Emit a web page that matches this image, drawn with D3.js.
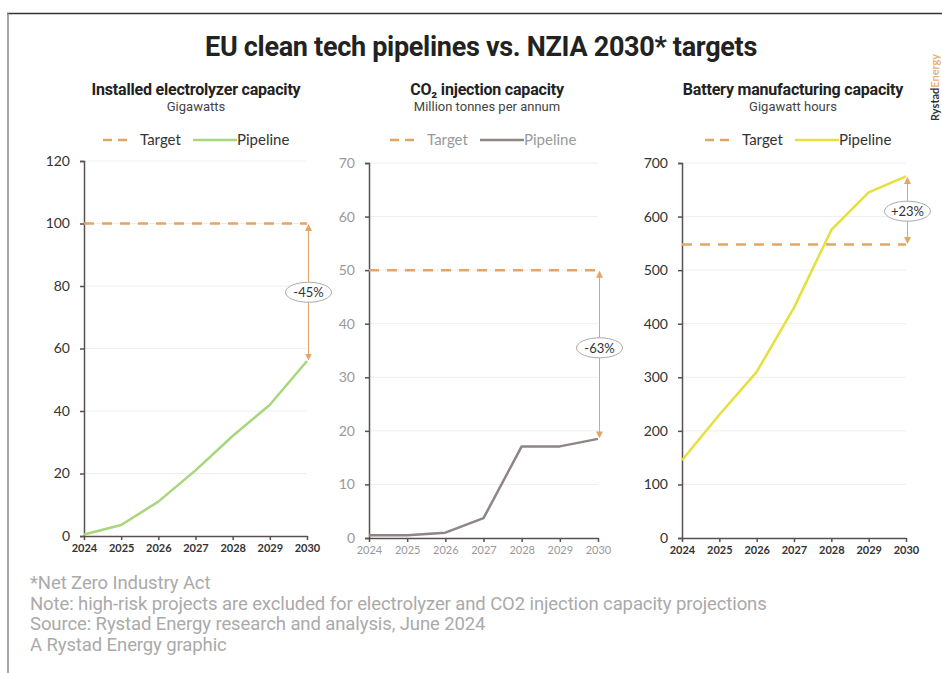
<!DOCTYPE html>
<html><head><meta charset="utf-8">
<script src="https://cdn.jsdelivr.net/npm/d3@7/dist/d3.min.js"></script>
<style>
body{margin:0;background:#fff;}
svg{display:block;}
</style></head>
<body>
<svg id="c" width="942" height="673"></svg>
<script>
const years = [2024, 2025, 2026, 2027, 2028, 2029, 2030];
const electrolyzer = [0.5, 3.5, 11, 21, 32, 42, 56];
const co2 = [0.5, 0.5, 1.0, 3.7, 17.1, 17.1, 18.5];
const battery = [145, 230, 310, 430, 575, 645, 675];
const targets = [100, 50, 548];
const gapLabels = ["-45%", "-63%", "+23%"];
const titles = ["Installed electrolyzer capacity", "CO₂ injection capacity", "Battery manufacturing capacity"];
const units = ["Gigawatts", "Million tonnes per annum", "Gigawatt hours"];
const yMax = [120, 70, 700];
const yTicks = [[0,20,40,60,80,100,120],[0,10,20,30,40,50,60,70],[0,100,200,300,400,500,600,700]];
const legendLabels = ["Target", "Pipeline"];
const footnotes = ["*Net Zero Industry Act",
  "Note: high-risk projects are excluded for electrolyzer and CO2 injection capacity projections",
  "Source: Rystad Energy research and analysis, June 2024",
  "A Rystad Energy graphic"];

const svg = d3.select("#c");
const COND = "'Roboto','Liberation Sans Narrow',sans-serif";
const WIDE = "'Lato','Open Sans',sans-serif";
const targetColor = "#e3a566";

// frame
svg.append("line").attr("x1",7).attr("x2",942).attr("y1",13.5).attr("y2",13.5).attr("stroke","#333").attr("stroke-width",1.5);
svg.append("line").attr("x1",8).attr("x2",8).attr("y1",13).attr("y2",673).attr("stroke","#888").attr("stroke-width",1.5);

// title
svg.append("text").attr("x",481).attr("y",56).attr("text-anchor","middle")
  .attr("font-family",COND).attr("font-weight","bold").attr("font-size",27).attr("fill","#222")
  .attr("letter-spacing","-0.3")
  .text("EU clean tech pipelines vs. NZIA 2030* targets");

// logo
const logo = svg.append("text").attr("transform","translate(939,121) rotate(-90)")
  .attr("font-family",WIDE).attr("font-weight","bold").attr("font-size",11);
logo.append("tspan").attr("fill","#333").text("Rystad");
logo.append("tspan").attr("fill","#e8b27a").text("Energy");

const panels = [
  {x0:84, x1:307, y0:536, y1:161, data:electrolyzer, color:"#a8d67c", tickColor:"#333", xtickColor:"#333", cx:196, lx:103},
  {x0:369, x1:598, y0:538, y1:163, data:co2, color:"#8e8584", tickColor:"#999", xtickColor:"#999", cx:487, lx:390},
  {x0:682, x1:906, y0:538, y1:163, data:battery, color:"#e6e03c", tickColor:"#333", xtickColor:"#333", cx:793, lx:705}
];

// arrowhead markers
const defs = svg.append("defs");
defs.append("marker").attr("id","ah").attr("viewBox","0 0 10 10").attr("refX",5).attr("refY",5)
  .attr("markerWidth",7).attr("markerHeight",7).attr("orient","auto-start-reverse")
  .append("path").attr("d","M0,0 L10,5 L0,10 z").attr("fill",targetColor);

panels.forEach((p, i) => {
  const g = svg.append("g");
  const x = d3.scaleLinear().domain([2024, 2030]).range([p.x0, p.x1]);
  const y = d3.scaleLinear().domain([0, yMax[i]]).range([p.y0, p.y1]);

  // titles
  g.append("text").attr("x",p.cx).attr("y",95).attr("text-anchor","middle")
    .attr("font-family",COND).attr("font-weight","bold").attr("font-size",16).attr("fill","#222")
    .attr("letter-spacing","-0.2").text(titles[i]);
  g.append("text").attr("x",p.cx).attr("y",111).attr("text-anchor","middle")
    .attr("font-family",COND).attr("font-size",13).attr("fill","#444").text(units[i]);

  // legend
  const ly = 140;
  g.append("line").attr("x1",p.lx).attr("x2",p.lx+30).attr("y1",ly).attr("y2",ly)
    .attr("stroke",targetColor).attr("stroke-width",2.5).attr("stroke-dasharray","9,6");
  g.append("text").attr("x",p.lx+37).attr("y",ly+5).attr("font-family",WIDE).attr("font-size",15).attr("fill",i===1?"#999":"#333").text(legendLabels[0]);
  g.append("line").attr("x1",p.lx+90).attr("x2",p.lx+134).attr("y1",ly).attr("y2",ly)
    .attr("stroke",p.color).attr("stroke-width",2.5);
  g.append("text").attr("x",p.lx+134).attr("y",ly+5).attr("font-family",WIDE).attr("font-size",15).attr("fill",i===1?"#999":"#333").text(legendLabels[1]);

  // grid
  g.selectAll(".grid").data(yTicks[i].slice(1)).enter().append("line")
    .attr("x1",p.x0).attr("x2",p.x1).attr("y1",d=>y(d)).attr("y2",d=>y(d))
    .attr("stroke","#eeeeee").attr("stroke-width",1);

  // y axis
  const ya = g.append("g").attr("transform",`translate(${p.x0},0)`)
    .call(d3.axisLeft(y).tickValues(yTicks[i]).tickSize(4).tickPadding(10));
  ya.select(".domain").attr("stroke","#5a4f4f").attr("stroke-width",1.5);
  ya.selectAll(".tick line").attr("stroke","#5a4f4f").attr("stroke-width",1.5);
  ya.selectAll("text").attr("font-family",WIDE).attr("font-size",14).attr("fill",p.tickColor);

  // x axis
  const xa = g.append("g").attr("transform",`translate(0,${p.y0})`)
    .call(d3.axisBottom(x).tickValues(years).tickFormat(d3.format("d")).tickSize(4).tickSizeOuter(0).tickPadding(4));
  xa.select(".domain").attr("stroke","#5a4f4f").attr("stroke-width",1.5);
  xa.selectAll(".tick line").attr("stroke","#5a4f4f").attr("stroke-width",1.5);
  xa.selectAll("text").attr("font-family",WIDE).attr("font-size",11).attr("font-weight",i===1?"normal":"bold").attr("fill",p.xtickColor);

  // target line
  g.append("line").attr("x1",p.x0).attr("x2",x(2030)).attr("y1",y(targets[i])).attr("y2",y(targets[i]))
    .attr("stroke",targetColor).attr("stroke-width",2.5).attr("stroke-dasharray","10,8");

  // pipeline
  const line = d3.line().x((d,j)=>x(years[j])).y(d=>y(d));
  g.append("path").datum(p.data).attr("d",line).attr("fill","none")
    .attr("stroke",p.color).attr("stroke-width",2.5).attr("stroke-linejoin","round");

  // gap arrow
  const ax = x(2030) + 1.5;
  const yt = y(targets[i]), yp = y(p.data[6]);
  const top = Math.min(yt, yp), bot = Math.max(yt, yp);
  g.append("line").attr("x1",ax).attr("x2",ax).attr("y1",top+4).attr("y2",bot-4)
    .attr("stroke",targetColor).attr("stroke-width",1)
    .attr("marker-start","url(#ah)").attr("marker-end","url(#ah)");
  const labY = i===0 ? y(78) : (i===1 ? y(35.5) : y(610));
  g.append("ellipse").attr("cx",ax).attr("cy",labY).attr("rx",23).attr("ry",10)
    .attr("fill","#fff").attr("stroke","#aaa").attr("stroke-width",1);
  g.append("text").attr("x",ax).attr("y",labY+5).attr("text-anchor","middle")
    .attr("font-family",WIDE).attr("font-size",13).attr("fill","#333").text(gapLabels[i]);
});

// footnotes
svg.selectAll(".fn").data(footnotes).enter().append("text")
  .attr("x",30).attr("y",(d,i)=>589 + i*20.5)
  .attr("font-family",COND).attr("font-size",18.5).attr("letter-spacing","-0.1").attr("fill","#aaa").text(d=>d);
</script>
</body></html>
